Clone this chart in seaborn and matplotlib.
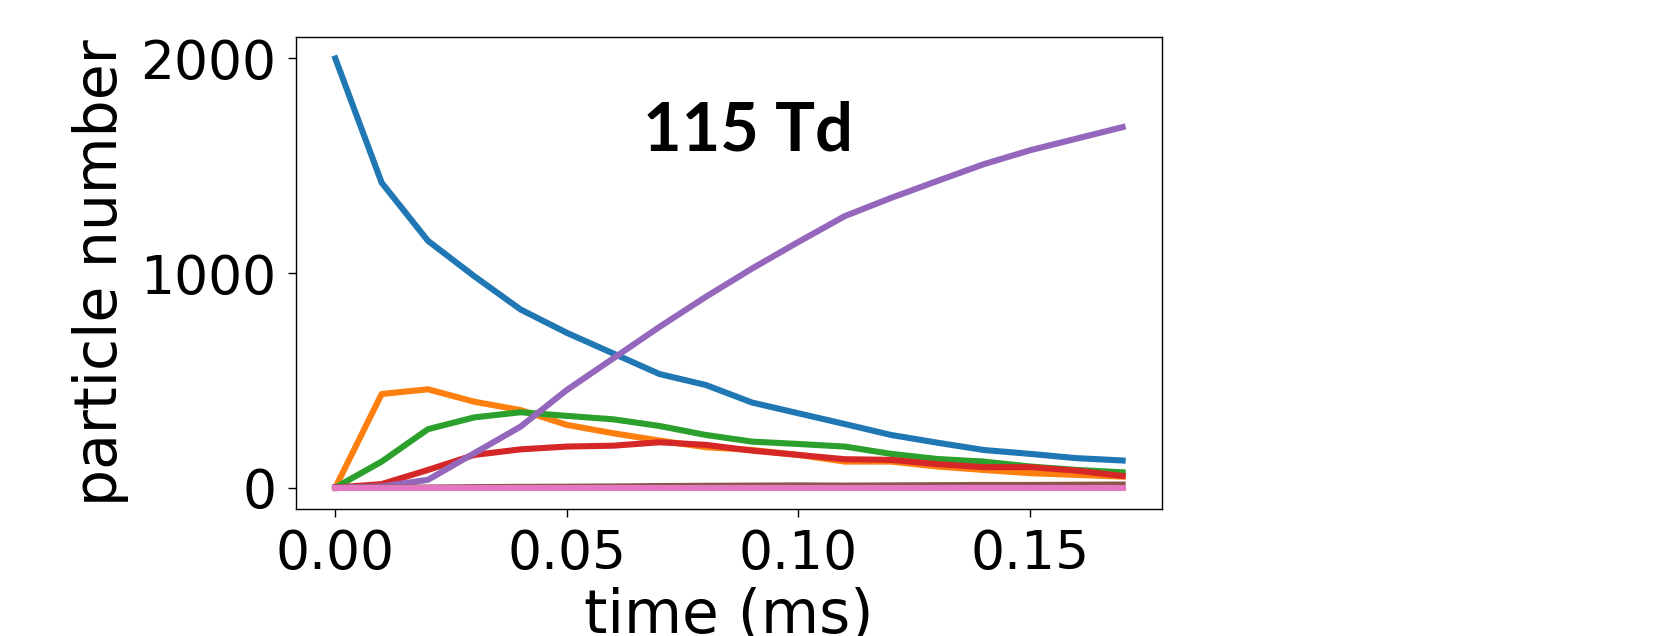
import numpy as np
import pandas as pd
import matplotlib
matplotlib.use("Agg")
import matplotlib.pyplot as plt
import seaborn as sns

# ---- data ----
time_ms = [0.00, 0.01, 0.02, 0.03, 0.04, 0.05, 0.06, 0.07, 0.08, 0.09,
           0.10, 0.11, 0.12, 0.13, 0.14, 0.15, 0.16, 0.17]
s_blue = [2000, 1421, 1150, 985, 830, 721, 625, 529, 478, 396,
          346, 296, 245, 209, 175, 157, 137, 126]
s_orange = [0, 436, 458, 400, 361, 292, 253, 219, 188, 175,
            152, 121, 121, 98, 82, 67, 59, 51]
s_green = [0, 121, 272, 327, 351, 334, 318, 287, 245, 214,
           203, 191, 157, 133, 121, 98, 82, 71]
s_red = [0, 16, 82, 152, 178, 191, 195, 211, 199, 172,
         152, 132, 129, 109, 95, 95, 79, 54]
s_purple = [0, 5, 36, 160, 284, 455, 602, 749, 889, 1021,
            1145, 1265, 1350, 1429, 1507, 1572, 1626, 1680]
s_brown = [0, 0, 0, 2, 3, 4, 5, 7, 8, 9, 10, 9, 10, 11, 12, 12, 13, 14]
s_pink = [0] * 18

series_names = ["s1", "s2", "s3", "s4", "s5", "s6", "s7"]
series_values = [s_blue, s_orange, s_green, s_red, s_purple, s_brown, s_pink]

xticks = [0.00, 0.05, 0.10, 0.15]
xtick_labels = ["0.00", "0.05", "0.10", "0.15"]
yticks = [0, 1000, 2000]
ytick_labels = ["0", "1000", "2000"]
annotation = "115 Td"

frames = []
for name, vals in zip(series_names, series_values):
    frames.append(pd.DataFrame({"time": time_ms, "n": vals, "species": name}))
df = pd.concat(frames, ignore_index=True)

# ---- figure ----
fig = plt.figure(figsize=(16.6, 6.36), dpi=100)
ax = fig.add_axes([0.1783, 0.1997, 0.7000 - 0.1783, 0.9418 - 0.1997])

palette = sns.color_palette("tab10", 7)
sns.lineplot(data=df, x="time", y="n", hue="species", hue_order=series_names,
             palette=palette, linewidth=4.4, legend=False, ax=ax, sort=False)

ax.set_xticks(xticks)
ax.set_xticklabels(xtick_labels)
ax.set_yticks(yticks)
ax.set_yticklabels(ytick_labels)
ax.margins(x=0.05, y=0.05)

ax.tick_params(axis="both", which="major", labelsize=38.5, length=6, width=1.0, pad=8)
for sp in ax.spines.values():
    sp.set_linewidth(1.0)

ax.set_xlabel("time (ms)", fontsize=43, labelpad=5)
ax.set_ylabel("particle number", fontsize=42, labelpad=8)

ax.text(0.522, 0.80, annotation, transform=ax.transAxes, ha="center", va="center",
        fontsize=48, fontweight="bold", family=["Lato", "DejaVu Sans"])

fig.savefig("out.png", dpi=100)
